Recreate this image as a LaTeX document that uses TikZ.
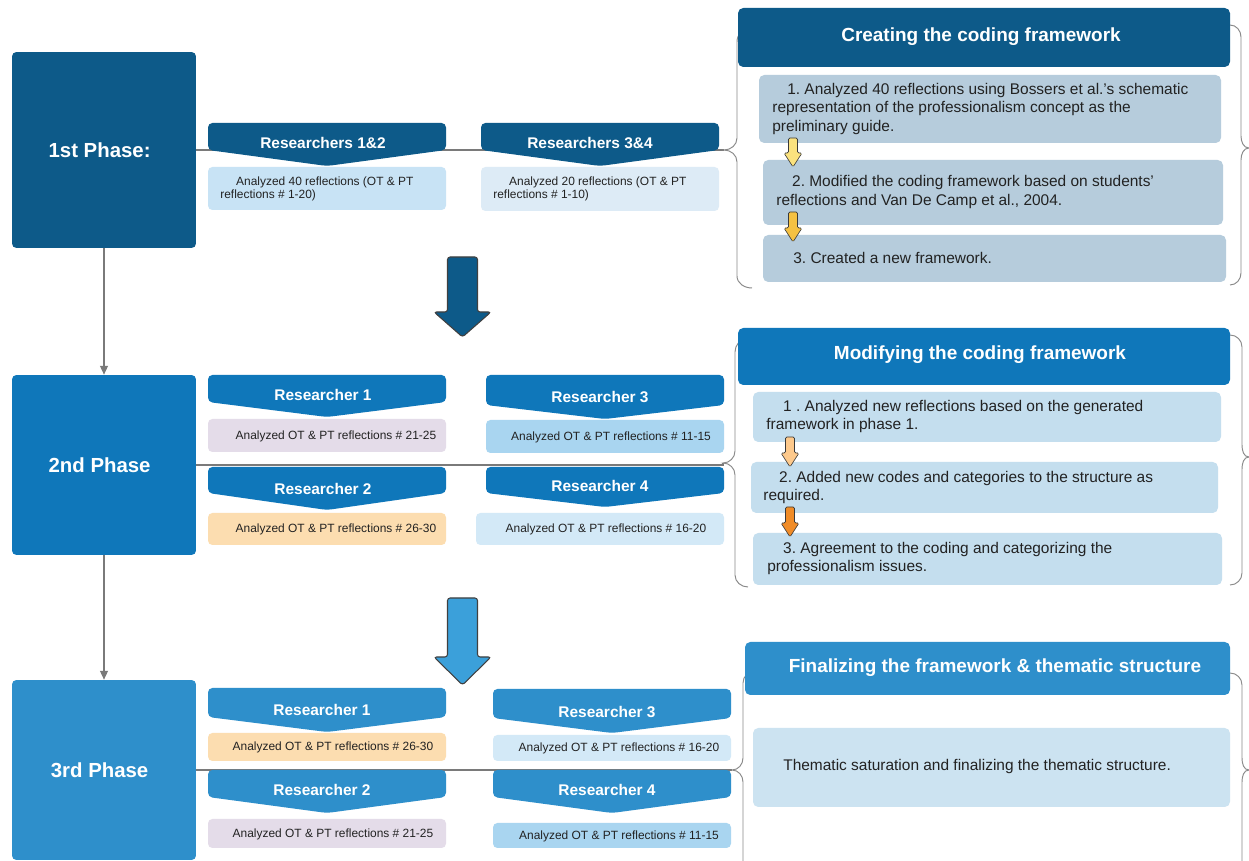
\documentclass[tikz,border=0pt]{standalone}
\usepackage{fontspec}
\setmainfont{Liberation Sans}
\frenchspacing
\usetikzlibrary{arrows.meta}
\definecolor{ph1}{HTML}{0D5A89}
\definecolor{ph2}{HTML}{0F77BA}
\definecolor{ph3}{HTML}{2E8FCB}
\definecolor{pnlA}{HTML}{B6CCDC}
\definecolor{pnlB}{HTML}{C4DEEE}
\definecolor{pnlC}{HTML}{CCE3F1}
\definecolor{bxA}{HTML}{C8E3F5}
\definecolor{bxB}{HTML}{DDEBF6}
\definecolor{lav}{HTML}{E4DCE9}
\definecolor{peach}{HTML}{FCDDB0}
\definecolor{midblue}{HTML}{A9D5F0}
\definecolor{ltblue}{HTML}{D3E9F7}
\definecolor{txt}{HTML}{222222}
\definecolor{linkgray}{HTML}{7A7A7A}
\definecolor{bracegray}{HTML}{8A8A8A}
\definecolor{arrline}{HTML}{3A3A3A}
\definecolor{yelA}{HTML}{FBE27E}
\definecolor{yelB}{HTML}{F5C142}
\definecolor{orA}{HTML}{FDC98C}
\definecolor{orB}{HTML}{F08C28}
\definecolor{bigA}{HTML}{0D5A89}
\definecolor{bigB}{HTML}{3BA0DA}

% banner: x1, x2, ytop, yshoulder, ytip, colour
\newcommand\bannershape[6]{%
  \fill[#6, rounded corners=2.5pt] (#1,#4) -- (#1,#3) -- (#2,#3) -- (#2,#4) -- ({(#1+#2)/2},#5) -- cycle;}
% small block arrow: cx, ytop, yhead, ytip, colour
\newcommand\smallblockarrow[5]{%
  \filldraw[fill=#5, draw=arrline, line width=0.35pt, rounded corners=0.8pt]
  ({#1-4.5},#2) -- ({#1+4.5},#2) -- ({#1+4.5},#3) -- ({#1+9},#3) -- (#1,#4)
  -- ({#1-9},#3) -- ({#1-4.5},#3) -- cycle;}
% big block arrow: cx, ytop, yhead, ytip, colour
\newcommand\bigblockarrow[5]{%
  \filldraw[fill=#5, draw=black!75, line width=0.6pt, rounded corners=1.5pt]
  ({#1-15},#2) -- ({#1+15},#2) -- ({#1+15},#3) -- ({#1+28.5},#3) -- (#1,#4)
  -- ({#1-28.5},#3) -- ({#1-15},#3) -- cycle;}

\begin{document}
\begin{tikzpicture}[x=0.02cm,y=-0.02cm,
  phasebox/.style={rounded corners=2.5pt, text=white, font=\fontsize{11.6}{14}\selectfont\bfseries, inner sep=0pt},
  bantext/.style={text=white, font=\fontsize{8.8}{10}\selectfont\bfseries, inner sep=0pt},
  smalltext/.style={text=txt, font=\fontsize{6.8}{7.4}\selectfont, inner sep=0pt, align=left},
  headtext/.style={text=white, font=\fontsize{10.8}{13}\selectfont\bfseries, inner sep=0pt},
  paneltext/.style={text=txt, font=\fontsize{8.8}{10.8}\selectfont, inner sep=0pt, align=left, anchor=west},
  link/.style={draw=linkgray, line width=0.6pt},
  bracel/.style={draw=bracegray, line width=0.55pt},
]
\useasboundingbox (0,0) rectangle (1249,861);
\fill[white] (0,0) rectangle (1249,861);

% ---------- phase boxes ----------
\node[phasebox, fill=ph1, minimum width=3.68cm, minimum height=3.92cm] (p1) at (104,150) {1st Phase:\kern5pt};
\node[phasebox, fill=ph2, minimum width=3.68cm, minimum height=3.6cm] (p2) at (104,465) {2nd Phase\kern5pt};
\node[phasebox, fill=ph3, minimum width=3.68cm, minimum height=3.6cm] (p3) at (104,770) {3rd Phase\kern5pt};

\draw[link, -{Triangle[width=4.5pt,length=5pt]}] (p1.south) -- (p2.north);
\draw[link, -{Triangle[width=4.5pt,length=5pt]}] (p2.south) -- (p3.north);

% brace tips
\coordinate (t1) at (724,150);
\coordinate (t2) at (723,463);
\coordinate (t3) at (732,770);
\draw[link] (p1.east) -- (t1);
\draw[link] (p2.east) -- (p2.east -| t2) -- (t2);
\draw[link] (p3.east) -- (t3);

% ---------- braces ----------
\draw[bracel] (750,28) to[out=180,in=90] (737,42) -- (737,138) to[out=270,in=0] (t1)
  to[out=0,in=90] (737,162) -- (737,276) to[out=270,in=180] (752,288);
\draw[bracel] (1230,25) to[out=0,in=90] (1241,37) -- (1241,136) to[out=270,in=180] (1249,148)
  to[out=180,in=90] (1241,160) -- (1241,273) to[out=270,in=0] (1230,285);
\draw[bracel] (747,339) to[out=180,in=90] (735,352) -- (735,451) to[out=270,in=0] (t2)
  to[out=0,in=90] (735,475) -- (735,575) to[out=270,in=180] (748,587);
\draw[bracel] (1230,335) to[out=0,in=90] (1242,347) -- (1242,445) to[out=270,in=180] (1249,457)
  to[out=180,in=90] (1242,469) -- (1242,573) to[out=270,in=0] (1230,585);
\draw[bracel] (755,671) to[out=180,in=90] (743,683) -- (743,758) to[out=270,in=0] (t3)
  to[out=0,in=90] (743,782) -- (743,861);
\draw[bracel] (1230,673) to[out=0,in=90] (1242,685) -- (1242,758) to[out=270,in=180] (1249,770)
  to[out=180,in=90] (1242,782) -- (1242,861);

% ---------- phase 1 researchers ----------
\bannershape{208}{446}{123}{150}{166}{ph1}
\bannershape{481}{719}{123}{150}{166}{ph1}
\node[bantext] (r12) at (323,143) {Researchers 1\&2};
\node[bantext] (r34) at (590,143) {Researchers 3\&4};
\fill[bxA, rounded corners=2.5pt] (208,167) rectangle (446,210);
\fill[bxB, rounded corners=2.5pt] (481,167) rectangle (719,211);
\node[smalltext, anchor=west] (a12) at (220,188.5) {\hspace*{9pt}Analyzed 40 reflections (OT \& PT\\reflections \# 1-20)};
\node[smalltext, anchor=west] (a34) at (493,188.5) {\hspace*{9pt}Analyzed 20 reflections (OT \& PT\\reflections \# 1-10)};

% ---------- phase 2 researchers ----------
\bannershape{208}{446}{375}{402}{417}{ph2}
\bannershape{486}{724}{375}{405}{419}{ph2}
\bannershape{208}{446}{467}{493}{510}{ph2}
\bannershape{486}{724}{467}{493}{507}{ph2}
\node[bantext] (b2r1) at (323,395) {Researcher 1};
\node[bantext] (b2r3) at (600,397) {Researcher 3};
\node[bantext] (b2r2) at (323,489) {Researcher 2};
\node[bantext] (b2r4) at (600,486) {Researcher 4};
\fill[lav, rounded corners=2.5pt] (208,419) rectangle (446,452);
\fill[midblue, rounded corners=2.5pt] (486,420) rectangle (724,453);
\fill[peach, rounded corners=2.5pt] (208,513) rectangle (446,545);
\fill[ltblue, rounded corners=2.5pt] (476,513) rectangle (724,545);
\node[smalltext] (a2r1) at (336,436) {Analyzed OT \& PT reflections \# 21-25};
\node[smalltext] (a2r3) at (611,437) {Analyzed OT \& PT reflections \# 11-15};
\node[smalltext] (a2r2) at (336,529) {Analyzed OT \& PT reflections \# 26-30};
\node[smalltext] (a2r4) at (606,529) {Analyzed OT \& PT reflections \# 16-20};

% ---------- phase 3 researchers ----------
\bannershape{208}{446}{688}{717}{732}{ph3}
\bannershape{493}{731}{689}{718}{733}{ph3}
\bannershape{208}{446}{770}{797}{813}{ph3}
\bannershape{493}{731}{770}{797}{813}{ph3}
\node[bantext] (b3r1) at (322,710) {Researcher 1};
\node[bantext] (b3r3) at (607,712) {Researcher 3};
\node[bantext] (b3r2) at (322,790) {Researcher 2};
\node[bantext] (b3r4) at (607,790) {Researcher 4};
\fill[peach, rounded corners=2.5pt] (208,733) rectangle (446,761);
\fill[ltblue, rounded corners=2.5pt] (493,735) rectangle (731,761);
\fill[lav, rounded corners=2.5pt] (208,819) rectangle (446,848);
\fill[midblue, rounded corners=2.5pt] (493,823) rectangle (731,848);
\node[smalltext] (a3r1) at (333,747) {Analyzed OT \& PT reflections \# 26-30};
\node[smalltext] (a3r3) at (619,748) {Analyzed OT \& PT reflections \# 16-20};
\node[smalltext] (a3r2) at (333,834) {Analyzed OT \& PT reflections \# 21-25};
\node[smalltext] (a3r4) at (619,836) {Analyzed OT \& PT reflections \# 11-15};

% ---------- big arrows ----------
\bigblockarrow{462.5}{257}{312}{337}{bigA}
\bigblockarrow{462.5}{598}{657}{685}{bigB}

% ---------- panel 1 ----------
\fill[ph1, rounded corners=3pt] (738,8) rectangle (1230,67);
\node[headtext] (h1) at (981,37) {Creating the coding framework};
\fill[pnlA, rounded corners=3pt] (759,75) rectangle (1221,143);
\fill[pnlA, rounded corners=3pt] (763,160) rectangle (1223,225);
\fill[pnlA, rounded corners=3pt] (763,235) rectangle (1226,282);
\node[paneltext] (s11) at (772,109) {\hspace*{8.5pt}1. Analyzed 40 reflections using Bossers et al.'s schematic\\representation of the professionalism concept as the\\preliminary guide.};
\node[paneltext] (s12) at (776,192) {\hspace*{9pt}2. Modified the coding framework based on students'\\reflections and Van De Camp et al., 2004.};
\node[paneltext] (s13) at (793,258) {3. Created a new framework.};
\smallblockarrow{793}{138}{153}{167}{yelA}
\smallblockarrow{793}{212}{228}{242}{yelB}

% ---------- panel 2 ----------
\fill[ph2, rounded corners=3pt] (738,328) rectangle (1230,385);
\node[headtext] (h2) at (980,355) {Modifying the coding framework};
\fill[pnlB, rounded corners=3pt] (753,392) rectangle (1221,442);
\fill[pnlB, rounded corners=3pt] (751,462) rectangle (1218,513);
\fill[pnlB, rounded corners=3pt] (753,533) rectangle (1222,585);
\node[paneltext] (s21) at (766,416.5) {\hspace*{9.6pt}1 . Analyzed new reflections based on the generated\\framework in phase 1.};
\node[paneltext] (s22) at (763,487.5) {\hspace*{9pt}2. Added new codes and categories to the structure as\\required.};
\node[paneltext] (s23) at (767,558.5) {\hspace*{9pt}3. Agreement to the coding and categorizing the\\professionalism issues.};
\smallblockarrow{790}{437}{453}{467}{orA}
\smallblockarrow{790}{507}{523}{537}{orB}

% ---------- panel 3 ----------
\fill[ph3, rounded corners=3pt] (745,642) rectangle (1230,695);
\node[headtext] (h3) at (995,668) {Finalizing the framework \& thematic structure};
\fill[pnlC, rounded corners=3pt] (753,728) rectangle (1230,807);
\node[paneltext] (s31) at (783,767) {Thematic saturation and finalizing the thematic structure.};
\end{tikzpicture}
\end{document}
